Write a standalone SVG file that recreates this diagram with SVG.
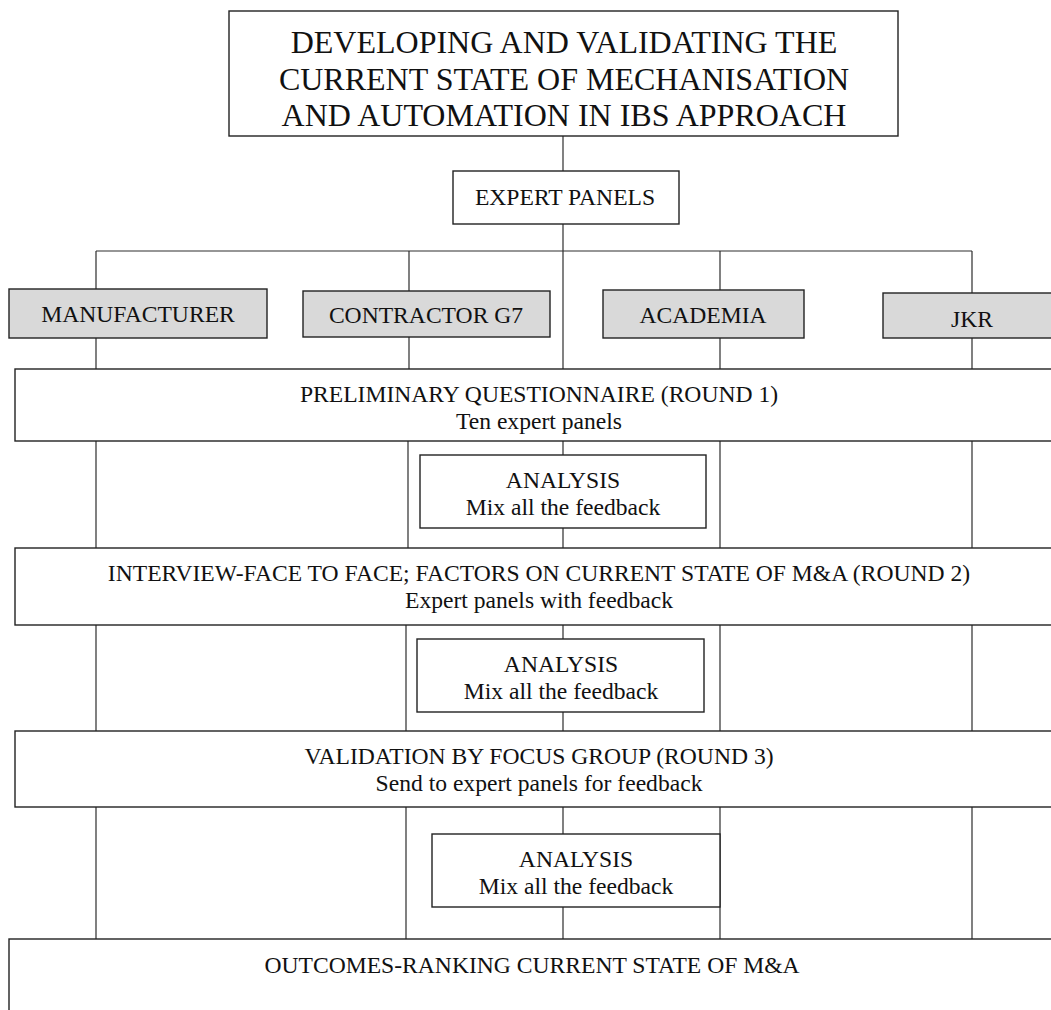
<svg xmlns="http://www.w3.org/2000/svg" width="1051" height="1010" viewBox="0 0 1051 1010">
<style>
.box{fill:#ffffff;stroke:#222222;stroke-width:1.4}
.cat{fill:#d9d9d9;stroke:#222222;stroke-width:1.4}
.ln{stroke:#2e2e2e;stroke-width:1.2;fill:none}
text{font-family:"Liberation Serif","DejaVu Serif",serif;fill:#111111;text-anchor:middle}
.t{font-size:32px}
.m{font-size:23.6px}
</style>
<rect width="1051" height="1010" fill="#ffffff"/>
<g id="connectors">
<path class="ln" d="M563 136V171"/>
<path class="ln" d="M563 224V369"/>
<path class="ln" d="M96 251H972"/>
<path class="ln" d="M96 251V289M409 251V291M720 251V290M972 251V293"/>
<path class="ln" d="M96 338V369M409 337V369M720 338V369M972 338V369"/>
<path class="ln" d="M96 441V548M408 441V548M720 441V548M972 441V548"/>
<path class="ln" d="M563 441V455M563 528V548"/>
<path class="ln" d="M96 625V731M406 625V731M720 625V731M972 625V731"/>
<path class="ln" d="M563 625V639M563 712V731"/>
<path class="ln" d="M96 807V939M406 807V939M720 807V939M972 807V939"/>
<path class="ln" d="M563 807V834M563 907V939"/>
</g>
<g id="title">
<rect class="box" x="229" y="11" width="669" height="125"/>
<text class="t" x="564" y="53">DEVELOPING AND VALIDATING THE</text>
<text class="t" x="564" y="90">CURRENT STATE OF MECHANISATION</text>
<text class="t" x="564" y="126">AND AUTOMATION IN IBS APPROACH</text>
</g>
<g id="expert-panels">
<rect class="box" x="453" y="171" width="226" height="53"/>
<text class="m" x="565" y="205">EXPERT PANELS</text>
</g>
<g id="manufacturer">
<rect class="cat" x="9" y="289" width="258" height="49"/>
<text class="m" x="138" y="322">MANUFACTURER</text>
</g>
<g id="contractor">
<rect class="cat" x="303" y="291" width="247" height="46"/>
<text class="m" x="426" y="323">CONTRACTOR G7</text>
</g>
<g id="academia">
<rect class="cat" x="603" y="290" width="201" height="48"/>
<text class="m" x="703" y="323">ACADEMIA</text>
</g>
<g id="jkr">
<rect class="cat" x="883" y="293" width="178" height="45"/>
<text class="m" x="972" y="327">JKR</text>
</g>
<g id="round1">
<rect class="box" x="15" y="369" width="1048" height="72"/>
<text class="m" x="539" y="402">PRELIMINARY QUESTIONNAIRE (ROUND 1)</text>
<text class="m" x="539" y="429">Ten expert panels</text>
</g>
<g id="analysis1">
<rect class="box" x="420" y="455" width="286" height="73"/>
<text class="m" x="563" y="488">ANALYSIS</text>
<text class="m" x="563" y="515">Mix all the feedback</text>
</g>
<g id="round2">
<rect class="box" x="15" y="548" width="1048" height="77"/>
<text class="m" x="539" y="581">INTERVIEW-FACE TO FACE; FACTORS ON CURRENT STATE OF M&amp;A (ROUND 2)</text>
<text class="m" x="539" y="608">Expert panels with feedback</text>
</g>
<g id="analysis2">
<rect class="box" x="417" y="639" width="287" height="73"/>
<text class="m" x="561" y="672">ANALYSIS</text>
<text class="m" x="561" y="699">Mix all the feedback</text>
</g>
<g id="round3">
<rect class="box" x="15" y="731" width="1048" height="76"/>
<text class="m" x="539" y="764">VALIDATION BY FOCUS GROUP (ROUND 3)</text>
<text class="m" x="539" y="791">Send to expert panels for feedback</text>
</g>
<g id="analysis3">
<rect class="box" x="432" y="834" width="288" height="73"/>
<text class="m" x="576" y="867">ANALYSIS</text>
<text class="m" x="576" y="894">Mix all the feedback</text>
</g>
<g id="outcomes">
<rect class="box" x="9" y="939" width="1046" height="90"/>
<text class="m" x="532" y="973">OUTCOMES-RANKING CURRENT STATE OF M&amp;A</text>
</g>
</svg>
